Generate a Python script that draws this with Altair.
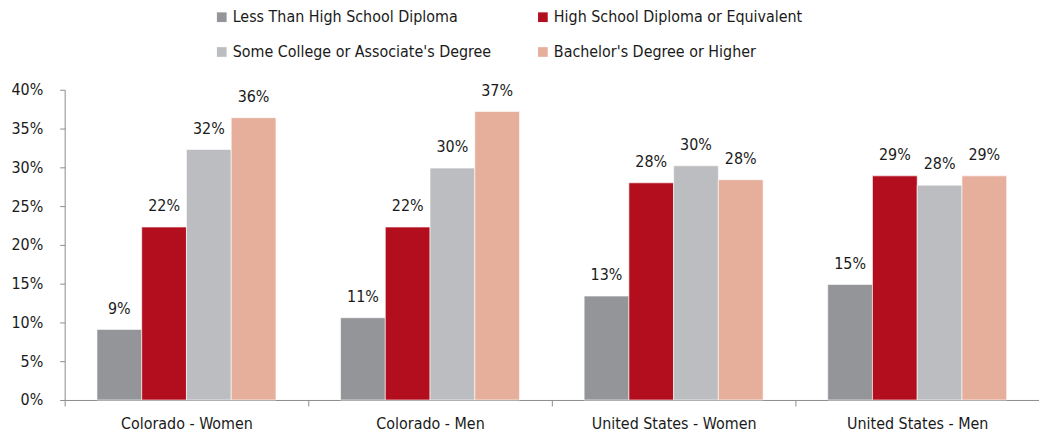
import altair as alt
import pandas as pd

groups = ["Colorado - Women", "Colorado - Men", "United States - Women", "United States - Men"]
series = ["Less Than High School Diploma", "High School Diploma or Equivalent",
          "Some College or Associate's Degree", "Bachelor's Degree or Higher"]
colors = ["#939598", "#B20E1E", "#BBBDC0", "#E6AF9C"]

less_hs = [0.091, 0.106, 0.134, 0.149]
hs = [0.223, 0.223, 0.280, 0.289]
some_college = [0.323, 0.299, 0.302, 0.277]
bachelor = [0.364, 0.372, 0.284, 0.289]

rows = []
for s, vals in zip(series, [less_hs, hs, some_college, bachelor]):
    for g, v in zip(groups, vals):
        rows.append({"group": g, "series": s, "value": v})
df = pd.DataFrame(rows)

# legend order (column-major grid): first column, then second column
legend_order = [series[0], series[2], series[1], series[3]]
legend_colors = [colors[0], colors[2], colors[1], colors[3]]

FONT = "DejaVu Sans Condensed, Liberation Sans Narrow, sans-serif"

x = alt.X("group:N", sort=groups, title=None,
          scale=alt.Scale(paddingInner=0, paddingOuter=0),
          axis=alt.Axis(labelAngle=0, tickBand="extent", domainColor="#8c8c8c",
                        tickColor="#8c8c8c", tickSize=6, labelPadding=10,
                        labelFontSize=16, labelColor="#1a1a1a", labelFont=FONT))
xo = alt.XOffset("series:N", sort=series,
                 scale=alt.Scale(paddingInner=0, paddingOuter=0.722))
y = alt.Y("value:Q", title=None,
          scale=alt.Scale(domain=[0, 0.4], nice=False),
          axis=alt.Axis(values=[i * 0.05 for i in range(9)], format=".0%", grid=False,
                        domainColor="#8c8c8c", tickColor="#8c8c8c", tickSize=5,
                        labelPadding=17, labelFontSize=16, labelColor="#1a1a1a",
                        labelFont=FONT))

bars = alt.Chart(df).mark_bar(stroke="white", strokeWidth=0.6).encode(
    x=x, xOffset=xo, y=y,
    color=alt.Color("series:N", sort=legend_order,
                    scale=alt.Scale(domain=legend_order, range=legend_colors),
                    legend=alt.Legend(title=None, orient="none", legendX=150, legendY=-81,
                                      columns=2, columnPadding=43, rowPadding=19,
                                      symbolType="square", symbolSize=95,
                                      symbolStrokeWidth=0, labelFontSize=16,
                                      labelFont=FONT, labelColor="#1a1a1a",
                                      labelOffset=3, labelLimit=400)),
)

labels = alt.Chart(df).mark_text(baseline="bottom", dy=-13, fontSize=16, font=FONT,
                                 color="#1a1a1a").encode(
    x=alt.X("group:N", sort=groups), xOffset=xo, y=y,
    text=alt.Text("value:Q", format=".0%"),
)

chart = (bars + labels).properties(
    width=980, height=312,
    autosize=alt.AutoSizeParams(type="none"),
    padding={"left": 57, "top": 81, "right": 0, "bottom": 40},
).configure_view(stroke=None)

chart.save("out.html", embed_options={"renderer": "svg", "actions": False})
